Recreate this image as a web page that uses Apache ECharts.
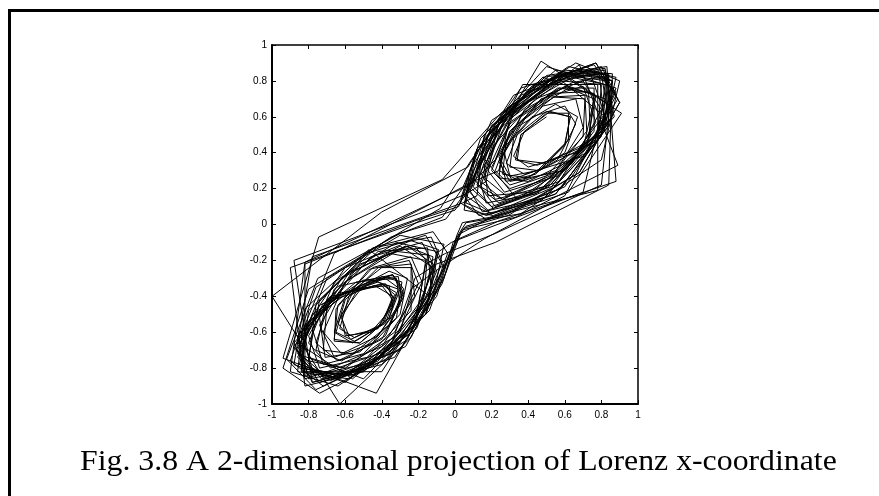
<!DOCTYPE html>
<html>
<head>
<meta charset="utf-8">
<script src="https://cdn.jsdelivr.net/npm/echarts@6/dist/echarts.min.js"></script>
<style>
  html, body { margin: 0; padding: 0; background: #fff; }
  #chart { width: 879px; height: 496px; }
</style>
</head>
<body>
<div id="chart"></div>
<script>
// Lorenz x-coordinate, normalised to [-1, 1] and sampled coarsely.
// Each run is one stay on a wing (upper = positive, lower = negative);
// the first samples of a run are the crossing from the other wing.
const upperRun1 = [0.20, 0.32, 0.54, 0.71, 0.70, 0.49, 0.26, 0.14, 0.21, 0.44, 0.70, 0.80, 0.64, 0.34, 0.14, 0.39, 0.74, 0.84, 0.55, 0.17, 0.03, 0.12, 0.42, 0.77, 0.90, 0.68, 0.29, 0.05];
const lowerRun1 = [-0.02, -0.14, -0.48, -0.80, -0.86, -0.62, -0.38, -0.33, -0.42, -0.57, -0.64, -0.55, -0.36, -0.26, -0.30, -0.50, -0.72, -0.78, -0.58, -0.27, -0.12, -0.18, -0.45, -0.78, -0.88, -0.20];
const upperRun2 = [0.06, 0.17, 0.24, 0.58, 0.85, 0.66, 0.40, 0.32, 0.38, 0.52, 0.63, 0.60, 0.45, 0.30, 0.27, 0.40, 0.62, 0.76, 0.70, 0.42, 0.18, 0.16, 0.33, 0.64, 0.82, 0.78, 0.47, 0.13, 0.05, 0.16, 0.37, 0.78, 0.78, 0.19, 0.04, 0.01];
const lowerRun2 = [-0.06, -0.30, -0.70, -0.86, -0.74, -0.45, -0.31, -0.36, -0.52, -0.66, -0.65, -0.47, -0.25, -0.20, -0.33, -0.60, -0.80, -0.76, -0.45, -0.13, -0.07, -0.21, -0.58, -0.86, -0.82, -0.47, -0.14, -0.40, -0.82, -0.82, -0.22];
const upperRun3 = [0.02, 0.10, 0.30, 0.66, 0.86, 0.80, 0.52, 0.22, 0.14, 0.29, 0.58, 0.80, 0.78, 0.51, 0.21, 0.09, 0.20, 0.55, 0.86, 0.80, 0.22];
const lowerRun3 = [-0.05, -0.16, -0.22, -0.56, -0.84, -0.82, -0.56, -0.36, -0.34, -0.46, -0.60, -0.62, -0.50, -0.34, -0.28, -0.40, -0.64, -0.76, -0.66, -0.36, -0.16, -0.20, -0.46, -0.77, -0.84, -0.60, -0.24, -0.09, -0.14, -0.42, -0.76, -0.92, -0.75, -0.30, -0.05];
const upperRun4 = [0.03, 0.14, 0.48, 0.82, 0.87, 0.60, 0.30, 0.24, 0.35, 0.55, 0.67, 0.60, 0.40, 0.26, 0.28, 0.47, 0.70, 0.77, 0.57, 0.24, 0.12, 0.22, 0.54, 0.80, 0.84, 0.58, 0.20, 0.06, 0.12, 0.42, 0.77, 0.90, 0.68, 0.29, 0.06];
const lowerRun4 = [-0.01, -0.10, -0.40, -0.78, -0.88, -0.66, -0.40, -0.33, -0.39, -0.55, -0.63, -0.58, -0.40, -0.29, -0.32, -0.52, -0.71, -0.74, -0.52, -0.22, -0.12, -0.25, -0.58, -0.84, -0.80, -0.48, -0.16, -0.06, -0.24, -0.63, -1.0, -0.40];
const upperRun5 = [0.07, 0.32, 0.72, 0.88, 0.74, 0.45, 0.33, 0.36, 0.50, 0.62, 0.62, 0.47, 0.31, 0.25, 0.36, 0.60, 0.77, 0.72, 0.44, 0.17, 0.12, 0.30, 0.62, 0.83, 0.80, 0.49, 0.15, 0.07, 0.21, 0.47, 0.91, 0.62, 0.18, 0.03];
const lowerRun5 = [-0.05, -0.27, -0.68, -0.87, -0.70, -0.42, -0.32, -0.38, -0.55, -0.65, -0.60, -0.42, -0.24, -0.22, -0.40, -0.68, -0.80, -0.66, -0.32, -0.10, -0.15, -0.43, -0.94, -0.745, -0.07];
const upperRun6 = [0.25, 0.62, 0.88, 0.82, 0.55, 0.30, 0.22, 0.30, 0.52, 0.71, 0.72, 0.52, 0.26, 0.14, 0.24, 0.56, 0.82, 0.84, 0.55, 0.17, 0.05, 0.11, 0.40, 0.68, 0.89, 0.33, 0.04];
const lowerRun6 = [-0.03, -0.16, -0.50, -0.82, -0.84, -0.60, -0.38, -0.30, -0.36, -0.52, -0.66, -0.64, -0.45, -0.24, -0.18, -0.32, -0.62, -0.80, -0.74, -0.42, -0.12, -0.04, -0.16, -0.50, -0.82, -0.90, -0.24];
const upperRun7 = [0.00, 0.08, 0.20, 0.55, 0.80, 0.88, 0.72, 0.40, 0.24, 0.26, 0.42, 0.60, 0.66, 0.56, 0.36, 0.24, 0.30, 0.52, 0.73, 0.74, 0.49, 0.20, 0.10, 0.21, 0.53, 0.82, 0.86, 0.60, 0.21, 0.05, 0.08, 0.30, 0.66, 0.90, 0.80, 0.36, 0.06, 0.01];
const lowerRun7 = [-0.07, -0.33, -0.74, -0.88, -0.68, -0.40, -0.34, -0.42, -0.58, -0.62, -0.52, -0.34, -0.28, -0.38, -0.62, -0.76, -0.70, -0.42, -0.15, -0.13, -0.36, -0.72, -0.90, -0.76, -0.35, -0.07];
const upperRun8 = [0.04, 0.20, 0.58, 0.84, 0.82, 0.56, 0.27, 0.18, 0.30, 0.57, 0.76, 0.73, 0.46, 0.18, 0.08, 0.18, 0.50, 0.83, 0.88, 0.24];
const lowerRun8 = [0.02, -0.08, -0.28, -0.62, -0.85, -0.78, -0.50, -0.31, -0.29, -0.42, -0.62, -0.72, -0.60, -0.32, -0.15, -0.17, -0.40, -0.73, -0.86, -0.70, -0.30, -0.06, -0.11, -0.36, -0.74, -0.94, -0.80, -0.36, -0.08];
const upperRun9 = [0.09, 0.36, 0.76, 0.89, 0.70, 0.38, 0.28, 0.34, 0.50, 0.63, 0.60, 0.44, 0.28, 0.24, 0.38, 0.64, 0.79, 0.82, 0.55, 0.22, 0.10, 0.26, 0.60, 0.86, 0.84, 0.22];
const lowerRun9 = [-0.10, -0.22, -0.30, -0.60, -0.84, -0.80, -0.54, -0.32, -0.30, -0.45, -0.66, -0.74, -0.56, -0.26, -0.12, -0.22, -0.56, -0.86, -0.66, -0.16];
const upperRun10 = [0.10, 0.24, 0.30, 0.60, 0.84, 0.84, 0.58, 0.30, 0.20, 0.30, 0.56, 0.76, 0.76, 0.52, 0.20, 0.06, 0.16, 0.48, 0.82, 0.70, 0.18];
const lowerRun10 = [-0.02, -0.10, -0.16, -0.50, -0.86, -0.72, -0.44, -0.34, -0.40, -0.56, -0.66, -0.60, -0.40, -0.24, -0.24, -0.48, -0.74, -0.80, -0.62, -0.30, -0.12, -0.24, -0.60, -0.88, -0.78, -0.18];
const upperRun11 = [0.04, 0.12, 0.16, 0.50, 0.88, 0.76, 0.46, 0.30, 0.32, 0.48, 0.66, 0.70, 0.54, 0.28, 0.16, 0.26, 0.56, 0.82, 0.60, 0.16];
const lowerRun11 = [-0.08, -0.24, -0.36, -0.70, -0.82, -0.86, -0.62, -0.34, -0.28, -0.36, -0.56, -0.72, -0.70, -0.46, -0.18, -0.10, -0.26, -0.64, -0.90, -0.82, -0.21];
const upperRun12 = [0.08, 0.22, 0.36, 0.72, 0.86, 0.80, 0.50, 0.34, 0.36, 0.50, 0.60];

// Axis range and tick step (both axes)
const axisMin = -1;
const axisMax = 1;
const tickStep = 0.2;

const captionText = 'Fig. 3.8 A 2-dimensional projection of Lorenz x-coordinate';

const xSeries = [].concat(
  upperRun1, lowerRun1, upperRun2, lowerRun2, upperRun3, lowerRun3,
  upperRun4, lowerRun4, upperRun5, lowerRun5, upperRun6, lowerRun6,
  upperRun7, lowerRun7, upperRun8, lowerRun8, upperRun9, lowerRun9,
  upperRun10, lowerRun10, upperRun11, lowerRun11, upperRun12
);

// Delay embedding: each point is (x[n], x[n+1])
const points = xSeries.slice(0, -1).map((v, i) => [v, xSeries[i + 1]]);

const tickFont = {
  color: '#000',
  fontFamily: '"Liberation Sans Narrow", "Arial Narrow", "Liberation Sans", sans-serif',
  fontSize: 10
};

function makeAxis(position, showLabels, lineWidth, margin) {
  return {
    type: 'value',
    position: position,
    min: axisMin,
    max: axisMax,
    interval: tickStep,
    axisLine: { show: true, onZero: false, lineStyle: { color: '#000', width: lineWidth } },
    axisTick: { show: true, inside: true, length: 4, lineStyle: { color: '#000', width: 1 } },
    axisLabel: Object.assign({ show: showLabels, margin: margin }, tickFont),
    splitLine: { show: false }
  };
}

const chart = echarts.init(document.getElementById('chart'), null, { renderer: 'canvas' });
chart.setOption({
  animation: false,
  backgroundColor: '#fff',
  grid: { left: 272, top: 45, width: 366, height: 359, containLabel: false },
  xAxis: [makeAxis('bottom', true, 2, 6), makeAxis('top', false, 1.5, 6)],
  yAxis: [makeAxis('left', true, 2, 5), makeAxis('right', false, 1.5, 5)],
  series: [{
    type: 'line',
    xAxisIndex: 0,
    yAxisIndex: 0,
    data: points,
    showSymbol: false,
    symbol: 'none',
    smooth: false,
    clip: true,
    lineStyle: { color: '#000', width: 1 }
  }],
  graphic: [
    {
      type: 'rect',
      silent: true,
      shape: { x: 9.5, y: 10.5, width: 900, height: 600 },
      style: { fill: 'none', stroke: '#000', lineWidth: 3 }
    },
    {
      type: 'text',
      silent: true,
      x: 80,
      y: 462,
      scaleX: 1.06,
      style: {
        text: captionText,
        fill: '#000',
        fontFamily: '"Liberation Serif", "Times New Roman", serif',
        fontSize: 30,
        textAlign: 'left',
        textVerticalAlign: 'middle'
      }
    }
  ]
});
</script>
</body>
</html>
